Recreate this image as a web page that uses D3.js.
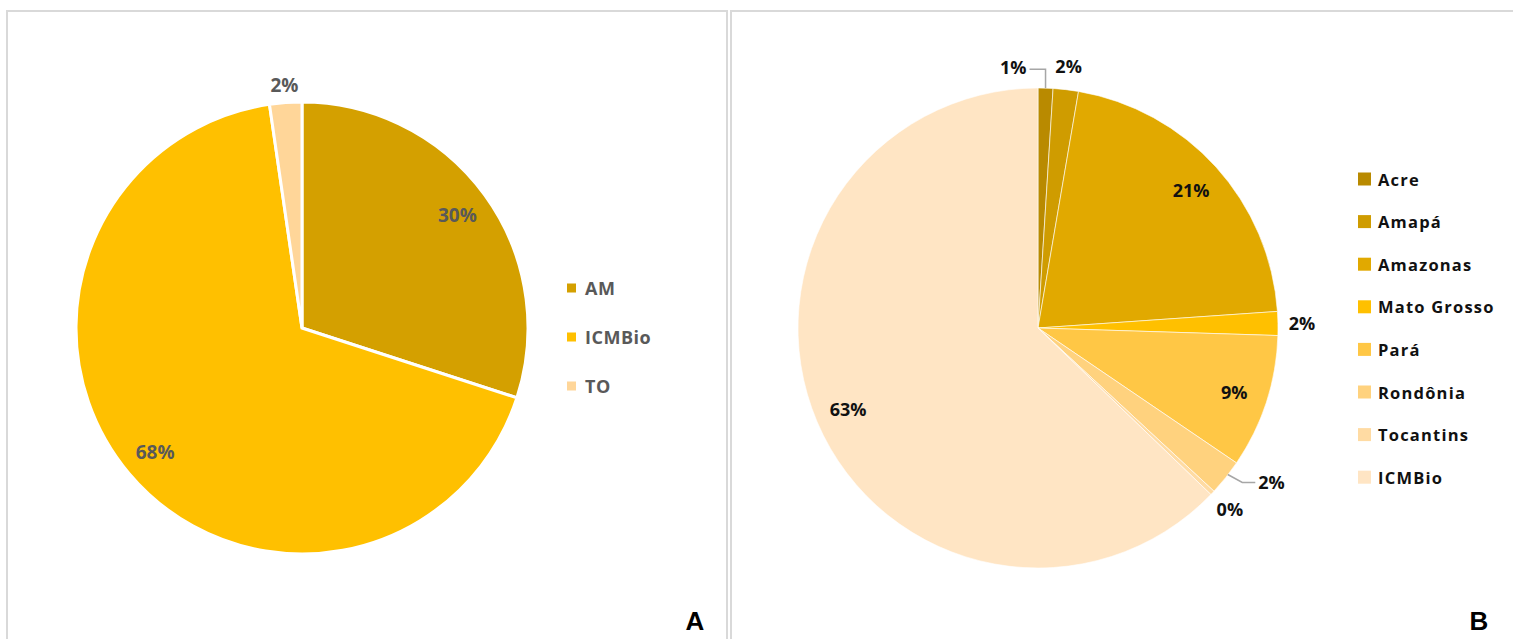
<!DOCTYPE html>
<html>
<head>
<meta charset="utf-8">
<script src="https://cdn.jsdelivr.net/npm/d3@7"></script>
<style>
  body { margin: 0; background: #fff; overflow: hidden; }
  text { font-family: "Open Sans", Lato, sans-serif; font-weight: 700; }
</style>
</head>
<body>
<div id="chart"></div>
<script>
// data, panel A
var catsA = ["AM", "ICMBio", "TO"];
var valsA = [30, 67.7, 2.3];
var colorsA = ["#D4A000", "#FFC000", "#FFD699"];

// data, panel B
var catsB = ["Acre", "Amapá", "Amazonas", "Mato Grosso", "Pará", "Rondônia", "Tocantins", "ICMBio"];
var valsB = [1.0, 1.7, 21.2, 1.6, 9.0, 2.4, 0.3, 62.8];
var colorsB = ["#B98A00", "#CF9C00", "#E1A900", "#FFC000", "#FFC745", "#FFD27E", "#FFDBA3", "#FFE5C4"];

var width = 1513, height = 639;

var svg = d3.select("#chart").append("svg")
    .attr("width", width)
    .attr("height", height)
    .style("display", "block");

// panel borders
svg.append("path")
    .attr("d", "M7,650 V11 H727 V650")
    .attr("fill", "none").attr("stroke", "#D9D9D9").attr("stroke-width", 2);
svg.append("path")
    .attr("d", "M731,650 V11 H1520")
    .attr("fill", "none").attr("stroke", "#D9D9D9").attr("stroke-width", 2);

var pie = d3.pie().sort(null).value(function (d) { return d.value; });

function fmt(v) { return Math.round(v) + "%"; }

function drawPie(opts) {
    var data = opts.cats.map(function (c, i) { return { name: c, value: opts.vals[i] }; });
    var color = d3.scaleOrdinal().domain(opts.cats).range(opts.colors);
    var arcs = pie(data);
    var r = opts.r;
    var arc = d3.arc().innerRadius(0).outerRadius(r);

    var g = svg.append("g").attr("transform", "translate(" + opts.cx + "," + opts.cy + ")");

    g.selectAll("path.slice")
        .data(arcs)
        .enter().append("path")
        .attr("class", "slice")
        .attr("d", arc)
        .attr("fill", function (d) { return color(d.data.name); })
        .attr("stroke", "#fff")
        .attr("stroke-width", opts.strokeW);

    // data labels: inside for big slices, just outside for small ones
    arcs.forEach(function (d) {
        var a = (d.startAngle + d.endAngle) / 2;
        var pct = d.data.value;
        var f = pct >= 5 ? opts.inR : opts.outR;
        var x = Math.sin(a) * r * f, y = -Math.cos(a) * r * f;
        var nudge = opts.nudge[d.data.name];
        if (nudge) { x += nudge[0]; y += nudge[1]; }
        var t = g.append("text")
            .attr("x", x).attr("y", y)
            .attr("text-anchor", "middle")
            .attr("dominant-baseline", "central")
            .attr("font-size", opts.labelSize)
            .attr("fill", opts.labelColor)
            .text(fmt(pct));
        if (nudge) {
            var hw = t.node().getComputedTextLength() / 2;
            var px = Math.sin(a) * r, py = -Math.cos(a) * r;
            var pts;
            if (nudge[0] < 0) {
                pts = [[x + hw + 3, y + 2], [px, y + 2], [px, py]];
            } else {
                pts = [[px + 2, py - 3], [x - hw - 16, y], [x - hw - 3, y]];
            }
            g.append("path")
                .attr("d", d3.line()(pts))
                .attr("fill", "none")
                .attr("stroke", "#A6A6A6")
                .attr("stroke-width", 1.5);
        }
    });

    // legend
    var leg = svg.append("g");
    var rows = leg.selectAll("g")
        .data(opts.cats)
        .enter().append("g")
        .attr("transform", function (d, i) { return "translate(" + opts.legX + "," + (opts.legY + i * opts.legStep) + ")"; });
    rows.append("rect")
        .attr("x", 0).attr("y", -opts.sq / 2)
        .attr("width", opts.sq).attr("height", opts.sq)
        .attr("fill", function (d) { return color(d); });
    rows.append("text")
        .attr("x", opts.legTextX)
        .attr("dominant-baseline", "central")
        .attr("font-size", opts.legSize)
        .attr("letter-spacing", opts.legSpacing)
        .attr("fill", opts.legColor)
        .text(function (d) { return d; });
}

drawPie({
    cats: catsA, vals: valsA, colors: colorsA,
    cx: 302, cy: 328, r: 226, strokeW: 3,
    inR: 0.85, outR: 1.08, nudge: {},
    labelSize: 19, labelColor: "#595959",
    legX: 567, legY: 288, legStep: 49, sq: 9, legTextX: 18,
    legSize: 18, legSpacing: 0.5, legColor: "#595959"
});

drawPie({
    cats: catsB, vals: valsB, colors: colorsB,
    cx: 1038, cy: 328, r: 240, strokeW: 0.6,
    inR: 0.86, outR: 1.1, nudge: { "Acre": [-33, 3], "Rondônia": [27, -10] },
    labelSize: 18, labelColor: "#111",
    legX: 1358, legY: 179, legStep: 42.6, sq: 13, legTextX: 20,
    legSize: 16.5, legSpacing: 1.2, legColor: "#111"
});

// panel letters
svg.append("text").attr("x", 695).attr("y", 621)
    .attr("text-anchor", "middle").attr("dominant-baseline", "central")
    .style("font-family", "'Liberation Sans', Arial, sans-serif")
    .attr("font-size", 26).text("A");
svg.append("text").attr("x", 1479).attr("y", 621)
    .attr("text-anchor", "middle").attr("dominant-baseline", "central")
    .style("font-family", "'Liberation Sans', Arial, sans-serif")
    .attr("font-size", 26).text("B");
</script>
</body>
</html>
